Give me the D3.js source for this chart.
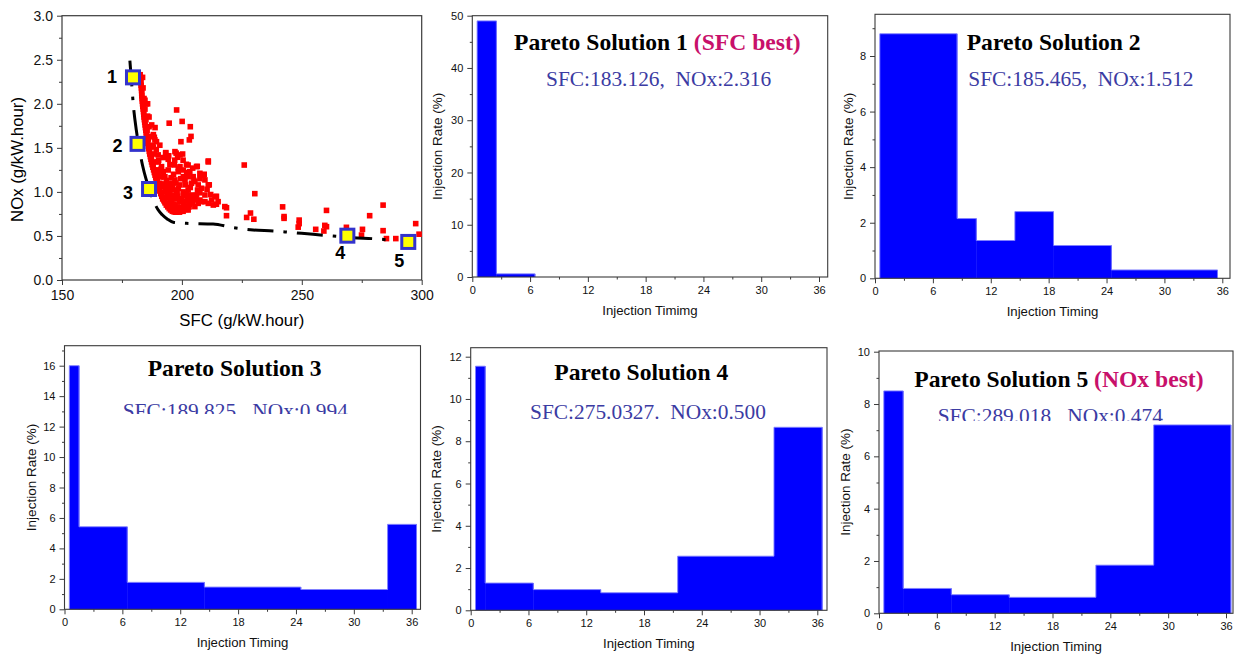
<!DOCTYPE html>
<html><head><meta charset="utf-8">
<script src="https://cdn.jsdelivr.net/npm/d3@7"></script>
<style>
body{margin:0;background:#fff}
svg{display:block}
text{font-family:"Liberation Sans",Arial,sans-serif}
.serif{font-family:"Liberation Serif","Times New Roman",serif}
</style></head><body>
<svg id="c" width="1236" height="657"></svg>
<script>
// ---------------- DATA ----------------
// Scatter of all evaluated designs [SFC, NOx]
const scatterPoints = [
 [182.6,2.33],[182.8,2.27],[183.0,2.21],[183.2,2.15],[183.3,2.09],[183.5,2.03],[183.7,1.97],[184.0,1.91],[184.2,1.85],[184.5,1.79],[184.8,1.73],[185.1,1.67],[185.4,1.61],[185.8,1.55],[186.2,1.49],[186.6,1.43],[187.1,1.37],[187.6,1.31],[188.2,1.25],[188.8,1.19],[189.4,1.13],[190.1,1.07],[190.8,1.01],[191.6,0.95],[192.5,0.90],[193.5,0.85],[194.7,0.81],[196.0,0.78],[197.5,0.77],[199.0,0.77],[200.5,0.78],[202.0,0.80],
 [182.7,2.30],[182.9,2.24],[183.1,2.18],[183.25,2.12],[183.4,2.06],[183.6,2.00],[183.85,1.94],[184.1,1.88],[184.35,1.82],[184.65,1.76],[184.95,1.70],[185.25,1.64],[185.6,1.58],[186.0,1.52],[186.4,1.46],[186.85,1.40],[187.35,1.34],[187.9,1.28],[188.5,1.22],[189.1,1.16],[189.75,1.10],[190.45,1.04],[191.2,0.98],[192.0,0.92],[193.0,0.875],[194.1,0.83],[195.3,0.795],[196.7,0.775],
 [183.6,2.30],[183.8,2.18],[184.2,2.06],[184.6,1.94],[185.0,1.82],[185.5,1.70],[186.0,1.60],[186.6,1.50],[187.3,1.40],[188.0,1.31],[188.8,1.22],[189.7,1.14],[190.6,1.06],[191.6,0.99],[192.7,0.92],[193.9,0.87],[195.2,0.83],[196.7,0.80],[198.3,0.79],[200.0,0.79],[201.5,0.81],[203.0,0.83],
 [185.2,2.00],[185.7,1.86],[186.3,1.74],[187.0,1.63],[187.6,1.53],[188.4,1.43],[189.2,1.34],[190.1,1.25],[191.0,1.17],[192.0,1.09],[193.0,1.02],[194.1,0.95],[195.3,0.90],[196.7,0.86],[198.2,0.83],[199.8,0.82],[201.4,0.84],[203.0,0.86],[204.5,0.88],
 [188.5,1.62],[189.3,1.48],[190.3,1.36],[191.4,1.26],[192.5,1.17],[193.7,1.09],[194.9,1.02],[196.2,0.96],[197.6,0.92],[199.1,0.89],[200.7,0.88],[202.3,0.90],[204.0,0.92],[205.6,0.95],
 [184.6,2.04],[185.7,2.00],[186.3,1.85],[187.4,1.76],[188.1,1.65],[188.75,1.59],[188.1,1.51],[190.1,1.42],[188.8,1.73],[189.4,1.57],
 [197.8,1.93],[194.7,1.78],[200.1,1.80],[203.5,1.74],[203.8,1.63],[203.1,1.59],[199.6,1.57],[190.8,1.53],[193.2,1.44],[199.2,1.42],[197.6,1.44],
 [193.3,1.446],[197.1,1.457],[198.2,1.393],[194.3,1.370],[190.1,1.343],[191.5,1.287],[196.8,1.306],[201.9,1.313],[206.1,1.287],[211.0,1.351],
 [194.3,1.249],[198.5,1.230],[203.3,1.230],[207.5,1.211],[209.3,1.200],[211.0,1.079],[213.8,0.946],[215.1,0.889],[217.9,0.833],[205.4,1.117],
 [208.2,1.041],[209.6,0.965],[201.3,1.136],[197.1,1.136],[192.9,1.173],[190.8,1.098],[194.3,1.060],[198.5,1.041],[202.6,1.022],[206.1,0.965],
 [208.2,0.889],[211.0,0.870],[191.5,0.984],[195.7,0.946],[199.9,0.927],[204.0,0.889],[192.9,0.889],[197.1,0.852],[201.3,0.833],[205.4,0.833],[195.0,0.833],
 [199.2,1.287],[200.6,1.173],[204.0,1.098],[202.6,1.173],[195.7,1.098],[199.2,1.079],[197.8,0.984],[201.9,0.984],[204.0,0.965],[193.6,1.003],
 [199.2,0.889],[203.3,0.870],[206.8,0.870],[192.2,1.060],[196.4,1.022],[200.6,0.889],[197.1,0.776],[199.9,0.795],[202.6,0.795],[207.5,0.908],
 [209.6,0.889],[212.4,0.908],[213.1,0.851],[206.8,1.079],[209.6,1.136],[204.7,1.173],[200.6,1.249],[190.1,1.211],[192.2,1.230],
 [193.5,1.13],[195.5,1.16],[197.5,1.10],[199.5,1.15],[201.5,1.08],[203.5,1.05],[196.0,1.06],[198.0,0.99],[200.5,1.00],[202.8,0.94],
 [194.8,0.99],[193.2,0.94],[195.8,0.89],[198.3,0.95],[200.8,0.955],[203.5,0.92],[205.5,0.91],[207.5,0.99],[206.5,1.02],[205.0,1.13],
 [207.5,1.15],[210.5,1.03],[212.0,0.97],[196.5,1.20],[198.5,1.27],[202.0,1.22],[204.5,1.27],[195.0,1.31],[197.0,1.36],[200.5,1.36],[192.2,1.39],[194.5,1.41],
 [206.4,1.29],[208.9,1.19],[211.4,1.08],[202.6,1.305],[200.3,1.43],[211.0,1.34],[226.0,1.305],[230.4,0.98],[214.4,0.95],[214.4,0.86],
 [218.6,0.82],[218.6,0.73],[228.6,0.76],[227.0,0.71],[230.0,0.69],[242.0,0.83],[242.6,0.72],[242.6,0.70],[248.9,0.68],[248.9,0.64],
 [248.5,0.60],[255.8,0.575],[260.3,0.79],[259.6,0.62],[260.3,0.605],[259.2,0.556],[268.6,0.598],[275.3,0.575],[274.9,0.51],[278.3,0.73],
 [283.9,0.85],[283.9,0.56],[285.3,0.47],[289.2,0.47],[297.5,0.64],[298.9,0.52]
];
// Fitted Pareto front (dash-dot curve) [SFC, NOx]
const paretoFront = [
 [178.3,2.49],[179.0,2.25],[179.7,2.00],[181.0,1.70],[182.5,1.45],[183.6,1.30],[185.0,1.15],[186.3,1.04],[188.0,0.91],[190.0,0.80],[191.8,0.74],[194.0,0.69],[196.4,0.655],[201.9,0.643],[213.0,0.636],[221.4,0.594],[229.7,0.567],[238.1,0.556],[245.0,0.541],[254.7,0.518],[263.0,0.500],[271.4,0.480],[279.7,0.469],[286.7,0.454]
];
// Selected Pareto solutions as plotted [SFC, NOx]
const paretoSFC = [179.6, 181.5, 186.3, 269.0, 294.4];
const paretoNOx = [2.30, 1.545, 1.033, 0.503, 0.432];
const paretoLabels = ["1","2","3","4","5"];
const sfcTicks = [150, 200, 250, 300];
const noxTicks = [0, 0.5, 1.0, 1.5, 2.0, 2.5, 3.0];

// Injection profiles: bin edges (injection timing) and rates (%)
const sol1Edges = [0.5, 2.5, 6.5];
const sol1Rates = [49, 0.6];
const sol2Edges = [0.5, 8.5, 10.5, 14.5, 18.5, 24.5, 35.5];
const sol2Rates = [8.8, 2.15, 1.36, 2.4, 1.18, 0.3];
const sol3Edges = [0.5, 1.5, 6.5, 14.5, 24.5, 33.5, 36.5];
const sol3Rates = [16, 5.42, 1.77, 1.46, 1.3, 5.58];
const sol4Edges = [0.5, 1.5, 6.5, 13.5, 21.5, 31.5, 36.5];
const sol4Rates = [11.55, 1.29, 0.98, 0.83, 2.56, 8.66];
const sol5Edges = [0.5, 2.5, 7.5, 13.5, 22.5, 28.5, 36.5];
const sol5Rates = [8.5, 0.95, 0.71, 0.61, 1.84, 7.2];
const timingTicks = [0, 6, 12, 18, 24, 30, 36];
const titles = ["Pareto Solution 1 ", "Pareto Solution 2", "Pareto Solution 3", "Pareto Solution 4", "Pareto Solution 5 "];
const titleNotes = ["(SFC best)", "", "", "", "(NOx best)"];
const subtitles = ["SFC:183.126,  NOx:2.316", "SFC:185.465,  NOx:1.512", "SFC:189.825,  NOx:0.994", "SFC:275.0327.  NOx:0.500", "SFC:289.018,  NOx:0.474"];
const xTitles = ["Injection Timimg", "Injection Timing", "Injection Timing", "Injection Timing", "Injection Timing"];

// ---------------- DRAW ----------------
const svg = d3.select("#c");
const AX = "#3a3a3a";

function styleAxis(g){
  g.select(".domain").remove();
  g.selectAll(".tick line").attr("stroke", AX).attr("stroke-width", 1);
  g.selectAll(".tick text").attr("fill", "#111");
}

// ---- Scatter panel ----
(function(){
  const L=62, R=421.7, T=15.7, B=280;
  const x = d3.scaleLinear().domain([150,300]).range([L,R]);
  const y = d3.scaleLinear().domain([0,3]).range([B,T]);
  const g = svg.append("g");
  const ax = g.append("g").attr("transform",`translate(0,${B})`)
    .call(d3.axisBottom(x).tickValues(sfcTicks).tickSize(5).tickPadding(5).tickFormat(d3.format("d")));
  ax.selectAll("text").attr("font-size",14);
  styleAxis(ax);
  const axm = g.append("g").attr("transform",`translate(0,${B})`)
    .call(d3.axisBottom(x).tickValues([175,225,275]).tickSize(3).tickFormat(""));
  styleAxis(axm);
  const ay = g.append("g").attr("transform",`translate(${L},0)`)
    .call(d3.axisLeft(y).tickValues(noxTicks).tickSize(5).tickPadding(4).tickFormat(d3.format(".1f")));
  ay.selectAll("text").attr("font-size",14);
  styleAxis(ay);
  const aym = g.append("g").attr("transform",`translate(${L},0)`)
    .call(d3.axisLeft(y).tickValues([0.25,0.75,1.25,1.75,2.25,2.75]).tickSize(3).tickFormat(""));
  styleAxis(aym);
  g.append("rect").attr("x",L).attr("y",T).attr("width",R-L).attr("height",B-T)
    .attr("fill","none").attr("stroke",AX).attr("stroke-width",1.2);
  g.append("g").selectAll("rect").data(scatterPoints).join("rect")
    .attr("x",d=>x(d[0])-2.8).attr("y",d=>y(d[1])-2.8).attr("width",5.6).attr("height",5.6)
    .attr("fill","#ff0000");
  g.append("path").datum(paretoFront)
    .attr("d", d3.line().x(d=>x(d[0])).y(d=>y(d[1])).curve(d3.curveMonotoneX))
    .attr("fill","none").attr("stroke","#000").attr("stroke-width",3)
    .attr("stroke-dasharray","26,10,3.5,10");
  const offs = [[-21,0],[-20,2],[-21,4],[-7,17],[-9,19]];
  paretoSFC.forEach((s,i)=>{
    g.append("rect").attr("x",x(s)-6.5).attr("y",y(paretoNOx[i])-6.5).attr("width",13).attr("height",13)
      .attr("fill","#ffff00").attr("stroke","#3333cc").attr("stroke-width",3);
    g.append("text").attr("x",x(s)+offs[i][0]).attr("y",y(paretoNOx[i])+offs[i][1])
      .attr("text-anchor","middle").attr("dominant-baseline","central")
      .attr("font-size",18).attr("font-weight","bold").text(paretoLabels[i]);
  });
  g.append("text").attr("x",(L+R)/2).attr("y",326).attr("text-anchor","middle")
    .attr("font-size",16.8).text("SFC (g/kW.hour)");
  g.append("text").attr("transform","translate(23,159.5) rotate(-90)").attr("text-anchor","middle")
    .attr("font-size",16.8).text("NOx (g/kW.hour)");
})();

// ---- Histogram panels ----
const panels = [
  {edges:sol1Edges, rates:sol1Rates, L:472.3, R:827.7, T:15.7, B:277, x36:819, yTop:50, yTopPx:15.7,
   yMaj:[0,10,20,30,40,50], yMin:[5,15,25,35,45], ylx:-35, tx:514, ty:49.5, sx:546, sy:86, clip:null},
  {edges:sol2Edges, rates:sol2Rates, L:875, R:1230, T:14.3, B:278.3, x36:1222.3, yTop:8, yTopPx:56,
   yMaj:[0,2,4,6,8], yMin:[1,3,5,7,9], ylx:-27, tx:966.7, ty:49.5, sx:968.3, sy:85.7, clip:null},
  {edges:sol3Edges, rates:sol3Rates, L:64.5, R:420.5, T:345.7, B:609.3, x36:411.7, yTop:16, yTopPx:365.7,
   yMaj:[0,2,4,6,8,10,12,14,16], yMin:[1,3,5,7,9,11,13,15,17], ylx:-33, tx:147.7, ty:376, sx:122.7, sy:418, clip:414},
  {edges:sol4Edges, rates:sol4Rates, L:470.7, R:827, T:347.7, B:610.3, x36:817.3, yTop:12, yTopPx:356.7,
   yMaj:[0,2,4,6,8,10,12], yMin:[1,3,5,7,9,11], ylx:-34, tx:554.3, ty:379.5, sx:530, sy:419, clip:null},
  {edges:sol5Edges, rates:sol5Rates, L:879, R:1233, T:351, B:613.3, x36:1226, yTop:10, yTopPx:351.7,
   yMaj:[0,2,4,6,8,10], yMin:[1,3,5,7,9], ylx:-34, tx:914.3, ty:386.7, sx:937.7, sy:422.5, clip:421}
];

panels.forEach((p,k)=>{
  const g = svg.append("g");
  const x = d3.scaleLinear().domain([0,36]).range([p.L,p.x36]);
  const y = d3.scaleLinear().domain([0,p.yTop]).range([p.B,p.yTopPx]);
  const bins = p.rates.map((r,i)=>({x0:p.edges[i], x1:p.edges[i+1], r}));
  g.append("g").selectAll("rect").data(bins).join("rect")
    .attr("x",d=>x(d.x0)).attr("y",d=>y(d.r)).attr("width",d=>x(d.x1)-x(d.x0)+0.4).attr("height",d=>y(0)-y(d.r))
    .attr("fill","#0000ff");
  // step outline
  const pts = [[bins[0].x0,0]];
  bins.forEach(b=>{ pts.push([b.x0,b.r]); pts.push([b.x1,b.r]); });
  pts.push([bins[bins.length-1].x1,0]);
  g.append("path").datum(pts)
    .attr("d", d3.line().x(d=>x(d[0])).y(d=>y(d[1])))
    .attr("fill","none").attr("stroke","#8080ff").attr("stroke-width",0.9);
  const ax = g.append("g").attr("transform",`translate(0,${p.B})`)
    .call(d3.axisBottom(x).tickValues(timingTicks).tickSize(5).tickPadding(4));
  ax.selectAll("text").attr("font-size",11);
  styleAxis(ax);
  const axm = g.append("g").attr("transform",`translate(0,${p.B})`)
    .call(d3.axisBottom(x).tickValues([3,9,15,21,27,33]).tickSize(2.5).tickFormat(""));
  styleAxis(axm);
  const ay = g.append("g").attr("transform",`translate(${p.L},0)`)
    .call(d3.axisLeft(y).tickValues(p.yMaj).tickSize(5).tickPadding(4));
  ay.selectAll("text").attr("font-size",11);
  styleAxis(ay);
  const aym = g.append("g").attr("transform",`translate(${p.L},0)`)
    .call(d3.axisLeft(y).tickValues(p.yMin.filter(v=>y(v)>=p.T-0.5)).tickSize(2.5).tickFormat(""));
  styleAxis(aym);
  g.append("rect").attr("x",p.L).attr("y",p.T).attr("width",p.R-p.L).attr("height",p.B-p.T)
    .attr("fill","none").attr("stroke",AX).attr("stroke-width",1.1);
  g.append("text").attr("x",(p.L+p.R)/2).attr("y",p.B+38).attr("text-anchor","middle")
    .attr("font-size",13.2).attr("fill","#111").text(xTitles[k]);
  g.append("text").attr("transform",`translate(${p.L+p.ylx},${(p.T+p.B)/2}) rotate(-90)`)
    .attr("text-anchor","middle").attr("dominant-baseline","central")
    .attr("font-size",13.5).attr("fill","#111").text("Injection Rate (%)");
  const t = g.append("text").attr("class","serif").attr("x",p.tx).attr("y",p.ty)
    .attr("font-size",23.6).attr("font-weight","bold").style("white-space","pre");
  t.append("tspan").attr("fill","#000").text(titles[k]);
  if (titleNotes[k]) t.append("tspan").attr("fill","#c8106a").text(titleNotes[k]);
  const st = g.append("text").attr("class","serif").attr("x",p.sx).attr("y",p.sy)
    .attr("font-size",21.4).attr("fill","#3b3ba3").style("white-space","pre").text(subtitles[k]);
  if (p.clip){
    const id = "clip"+k;
    svg.append("defs").append("clipPath").attr("id",id).append("rect")
      .attr("x",0).attr("y",0).attr("width",1236).attr("height",p.clip);
    st.attr("clip-path",`url(#${id})`);
  }
});
</script>
</body></html>
